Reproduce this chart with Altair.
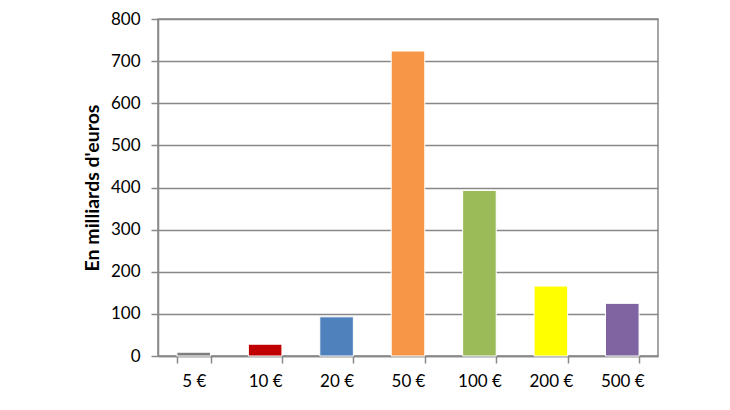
import altair as alt
import pandas as pd

categories = ["5 €", "10 €", "20 €", "50 €", "100 €", "200 €", "500 €"]
values = [9, 28, 93, 724, 393, 166, 125]
colors = ["#7f7f7f", "#c00000", "#4f81bd", "#f79646", "#9bbb59", "#ffff00", "#8064a2"]

df = pd.DataFrame({"cat": categories, "val": values})

font = "Lato"
grid_color = "#888888"

chart = alt.Chart(df).mark_bar(stroke="white", strokeWidth=1).encode(
    x=alt.X("cat:N", sort=categories, title=None,
            scale=alt.Scale(paddingInner=0.53, paddingOuter=0.265),
            axis=alt.Axis(labelAngle=0, tickBand="extent", grid=False,
                          tickSize=7, tickColor=grid_color, domainColor=grid_color,
                          domainWidth=1.5, tickWidth=1.5,
                          labelFont=font, labelFontSize=17, labelColor="#000",
                          labelPadding=10)),
    y=alt.Y("val:Q", title="En milliards d'euros",
            scale=alt.Scale(domain=[0, 800]),
            axis=alt.Axis(values=[0, 100, 200, 300, 400, 500, 600, 700, 800],
                          tickSize=7, tickColor=grid_color, domainColor=grid_color,
                          domainWidth=1.5, tickWidth=1.5,
                          gridColor=grid_color, gridWidth=1.5,
                          labelFont=font, labelFontSize=17, labelColor="#000",
                          labelPadding=11,
                          titleFont=font, titleFontSize=19.5, titleFontWeight="bold",
                          titleColor="#000", titlePadding=8)),
    color=alt.Color("cat:N", sort=categories,
                    scale=alt.Scale(domain=categories, range=colors), legend=None),
).properties(
    width=500, height=337,
    padding={"left": 74, "top": 2, "right": 5, "bottom": 5},
).configure_view(stroke=grid_color, strokeWidth=1.5)

chart.save("out.html", embed_options={"renderer": "svg", "actions": False})
